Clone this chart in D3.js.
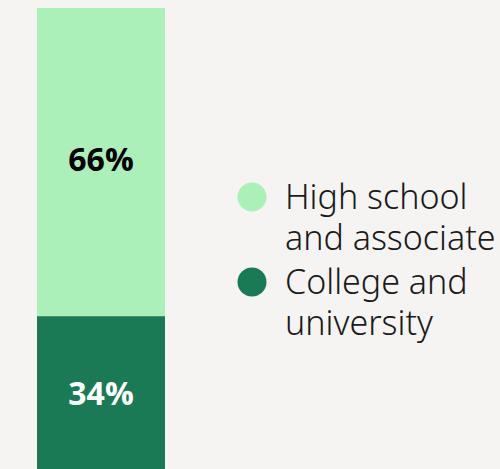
<!DOCTYPE html>
<html lang="en">
<head>
<meta charset="UTF-8">
<title>Education share</title>
<script src="https://d3js.org/d3.v7.min.js"></script>
<style>
  body { margin: 0; background: #f5f4f2; }
  svg { display: block; }
</style>
</head>
<body>
<svg width="500" height="469"></svg>
<script>
const categories = ["High school and associate", "College and university"];
const legendLines = [["High school", "and associate"], ["College and", "university"]];
const values = [66, 34];
const colors = ["#aaf0b8", "#1b7a56"];
const labelColors = ["#000000", "#ffffff"];

const svg = d3.select("svg");

// bar runs off the bottom edge a little
const y = d3.scaleLinear().domain([0, 100]).range([8, 475]);
const x = d3.scaleBand().domain(["all"]).range([37, 165]).padding(0);

let acc = 0;
const stacked = values.map((v, i) => {
  const d = { cat: categories[i], v: v, y0: acc, y1: acc + v, i: i };
  acc += v;
  return d;
});

svg.selectAll(".seg")
  .data(stacked)
  .enter()
  .append("rect")
  .attr("class", "seg")
  .attr("x", x("all"))
  .attr("width", x.bandwidth())
  .attr("y", d => y(d.y0))
  .attr("height", d => y(d.y1) - y(d.y0))
  .attr("fill", d => colors[d.i]);

svg.selectAll(".lbl")
  .data(stacked)
  .enter()
  .append("text")
  .attr("class", "lbl")
  .attr("x", x("all") + x.bandwidth() / 2)
  .attr("y", d => (y(d.y0) + y(d.y1)) / 2 - 2)
  .attr("dy", "0.35em")
  .attr("text-anchor", "middle")
  .attr("fill", d => labelColors[d.i])
  .style("font-family", "'Open Sans', sans-serif")
  .style("font-weight", "bold")
  .style("font-size", "32px")
  .text(d => d.v + "%");

// legend
const legend = svg.append("g");
const items = legend.selectAll(".item")
  .data(stacked)
  .enter()
  .append("g")
  .attr("transform", (d, i) => `translate(252, ${197 + i * 85})`);

items.append("circle")
  .attr("r", 14.5)
  .attr("fill", d => colors[d.i]);

items.each(function(d) {
  const t = d3.select(this).append("text")
    .attr("x", 33)
    .attr("y", 12)
    .attr("fill", "#1a1a1a")
    .style("font-family", "'Noto Sans', sans-serif")
    .style("font-weight", "300")
    .style("font-size", "34px");
  legendLines[d.i].forEach((line, j) => {
    t.append("tspan")
      .attr("x", 33)
      .attr("dy", j === 0 ? 0 : 41)
      .text(line);
  });
});
</script>
</body>
</html>
